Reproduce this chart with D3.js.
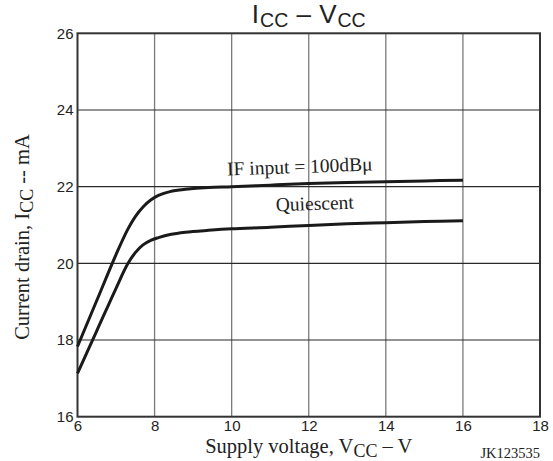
<!DOCTYPE html>
<html>
<head>
<meta charset="utf-8">
<script src="https://cdn.jsdelivr.net/npm/d3@7/dist/d3.min.js"></script>
<style>
  html, body { margin: 0; padding: 0; background: #fff; }
  svg { display: block; }
</style>
</head>
<body>
<div id="chart"></div>
<script>
// Supply voltage (V) sample points along the curves
const voltage = [6, 6.5, 7.0, 7.3, 7.5, 7.7, 7.9, 8.1, 8.4, 8.8, 9.4, 10, 11, 12, 13, 14, 15, 16];
// Current drain (mA) with IF input = 100 dBµ
const iccSignal = [17.83, 19.03, 20.23, 20.88, 21.22, 21.47, 21.65, 21.77, 21.87, 21.93, 21.98, 22.00, 22.04, 22.08, 22.11, 22.13, 22.15, 22.17];
// Current drain (mA), quiescent
const iccQuiescent = [17.13, 18.24, 19.35, 19.98, 20.28, 20.48, 20.60, 20.67, 20.75, 20.81, 20.86, 20.90, 20.94, 20.99, 21.03, 21.06, 21.09, 21.11];

const xTicks = [6, 8, 10, 12, 14, 16, 18];
const yTicks = [16, 18, 20, 22, 24, 26];

const SANS = "'Liberation Sans', Arial, Helvetica, sans-serif";
const SERIF = "'Liberation Serif', 'Times New Roman', serif";
const INK = "#222";

const W = 553, H = 461;
const plot = { left: 77.5, right: 540, top: 33.3, bottom: 416.7 };

const svg = d3.select("#chart").append("svg")
  .attr("width", W).attr("height", H);

const x = d3.scaleLinear().domain([6, 18]).range([plot.left, plot.right]);
const y = d3.scaleLinear().domain([16, 26]).range([plot.bottom, plot.top]);

// Grid: vertical lines lighter, horizontal lines darker
svg.append("g").selectAll("line")
  .data(xTicks.slice(1, -1)).join("line")
  .attr("x1", d => x(d)).attr("x2", d => x(d))
  .attr("y1", plot.top).attr("y2", plot.bottom)
  .attr("stroke", "#7a7a7a").attr("stroke-width", 1.3);

svg.append("g").selectAll("line")
  .data(yTicks.slice(1, -1)).join("line")
  .attr("x1", plot.left).attr("x2", plot.right)
  .attr("y1", d => y(d)).attr("y2", d => y(d))
  .attr("stroke", "#2a2a2a").attr("stroke-width", 1.1);

// Frame
svg.append("rect")
  .attr("x", plot.left).attr("y", plot.top)
  .attr("width", plot.right - plot.left).attr("height", plot.bottom - plot.top)
  .attr("fill", "none").attr("stroke", "#333").attr("stroke-width", 2);

// Axis tick labels
const xAxis = svg.append("g")
  .attr("transform", `translate(0,${plot.bottom})`)
  .call(d3.axisBottom(x).tickValues(xTicks).tickSize(0).tickPadding(4).tickFormat(d3.format("d")));
xAxis.select(".domain").remove();
xAxis.selectAll("text")
  .attr("font-size", 15).attr("fill", INK).style("font-family", SANS);

const yAxis = svg.append("g")
  .attr("transform", `translate(${plot.left},0)`)
  .call(d3.axisLeft(y).tickValues(yTicks).tickSize(0).tickPadding(4).tickFormat(d3.format("d")));
yAxis.select(".domain").remove();
yAxis.selectAll("text")
  .attr("font-size", 15).attr("fill", INK).style("font-family", SANS);

// Curves
const line = d3.line()
  .x(d => x(d[0])).y(d => y(d[1]))
  .curve(d3.curveCatmullRom.alpha(0.5));

[iccSignal, iccQuiescent].forEach(series => {
  svg.append("path")
    .datum(voltage.map((v, i) => [v, series[i]]))
    .attr("d", line)
    .attr("fill", "none")
    .attr("stroke", "#1a1a1a")
    .attr("stroke-width", 3)
    .attr("stroke-linejoin", "round");
});

// Curve labels
function curveLabel(txt, cx, cy) {
  svg.append("text")
    .attr("transform", `translate(${cx},${cy}) rotate(-2)`)
    .attr("text-anchor", "middle")
    .style("font-family", SERIF)
    .attr("font-size", 19.5).attr("fill", INK)
    .text(txt);
}
curveLabel("IF input = 100dBμ", 300, 173);
curveLabel("Quiescent", 315, 210);

// Title
const title = svg.append("text")
  .attr("x", (plot.left + plot.right) / 2).attr("y", 23)
  .attr("text-anchor", "middle").style("font-family", SANS)
  .attr("font-size", 26).attr("fill", INK);
title.append("tspan").text("I");
title.append("tspan").attr("font-size", 19.5).attr("dy", 4).attr("dx", 1).text("CC");
title.append("tspan").attr("dy", -4).attr("dx", 1).text("\u00a0–\u00a0");
title.append("tspan").attr("dx", 1).text("V");
title.append("tspan").attr("font-size", 19.5).attr("dy", 4).attr("dx", 1).text("CC");

// X axis title
const xt = svg.append("text")
  .attr("x", (plot.left + plot.right) / 2).attr("y", 453)
  .attr("text-anchor", "middle").style("font-family", SERIF)
  .attr("font-size", 20.5).attr("fill", INK);
xt.append("tspan").text("Supply voltage, V");
xt.append("tspan").attr("font-size", 18).attr("dy", 4).text("CC");
xt.append("tspan").attr("dy", -4).text(" – V");

// Y axis title
const yt = svg.append("text")
  .attr("transform", `translate(29,237) rotate(-90)`)
  .attr("text-anchor", "middle").style("font-family", SERIF)
  .attr("font-size", 20.5).attr("fill", INK);
yt.append("tspan").text("Current drain, I");
yt.append("tspan").attr("font-size", 18).attr("dy", 4).text("CC");
yt.append("tspan").attr("dy", -4).text(" -- mA");

// Drawing reference code
svg.append("text")
  .attr("x", 540).attr("y", 458)
  .attr("text-anchor", "end").style("font-family", SERIF)
  .attr("font-size", 14.5).attr("fill", INK)
  .text("JK123535");
</script>
</body>
</html>
